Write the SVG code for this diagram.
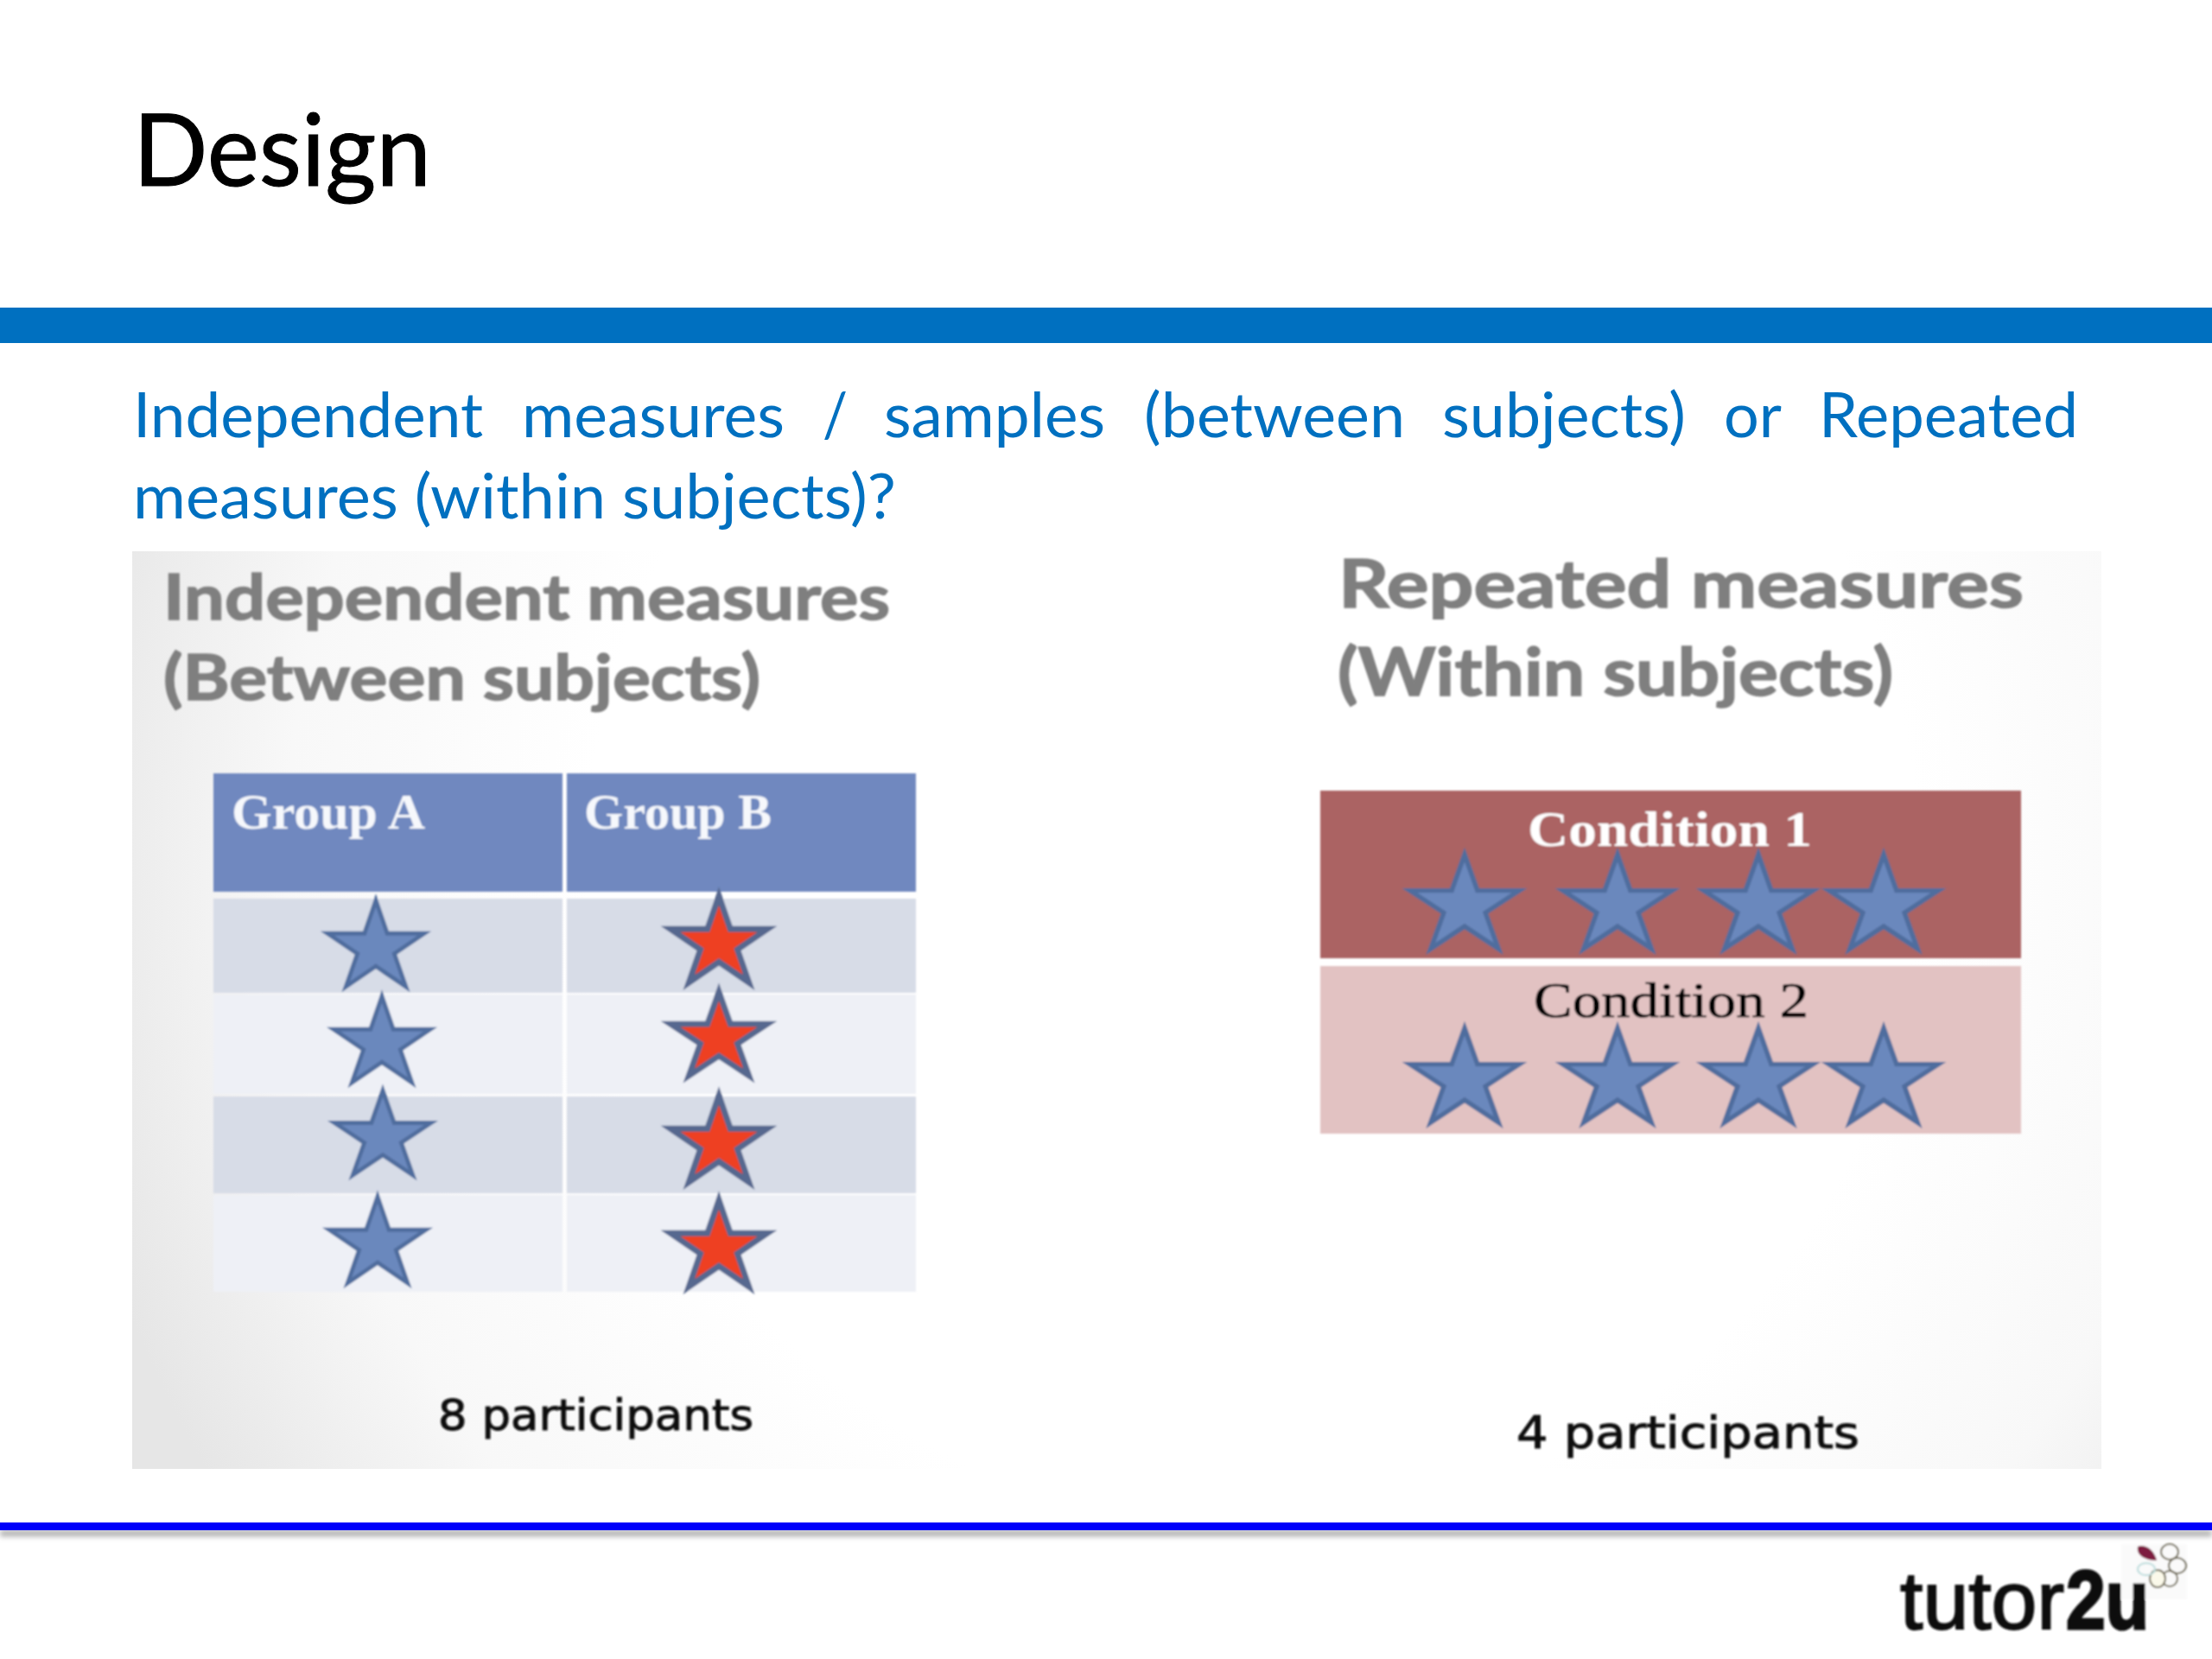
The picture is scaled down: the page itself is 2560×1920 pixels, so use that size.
<svg xmlns="http://www.w3.org/2000/svg" xmlns:xlink="http://www.w3.org/1999/xlink" width="2560" height="1920" viewBox="0 0 2560 1920">
<style>
.body{font-family:Lato,"Open Sans",sans-serif;font-size:71px;fill:#0070c0}
.head{font-family:Lato,"Open Sans",sans-serif;font-weight:700;font-size:72px;fill:#7f7f7f;stroke:#7f7f7f;stroke-width:1.5}
.ser{font-family:"Liberation Serif",serif;font-size:56px}
.cnt{font-family:"DejaVu Sans",sans-serif;font-size:50px;fill:#111;stroke:#111;stroke-width:1}
.sa{fill:#6b88bd;stroke:#4f6d9e;stroke-width:5}
.sb{fill:#ee3f24;stroke:#56688f;stroke-width:7}
</style>
<defs>
<polygon id="star" points="0,0 13.2,38.2 56,38.2 21.4,61.8 34.7,100 0,76.3 -34.7,100 -21.4,61.8 -56,38.2 -13.2,38.2"/>
<radialGradient id="pg" gradientUnits="userSpaceOnUse" cx="1450" cy="1000" r="1400">
<stop offset="0.55" stop-color="#ffffff"/><stop offset="0.8" stop-color="#f8f8f8"/><stop offset="1" stop-color="#e6e6e6"/>
</radialGradient>
<filter id="soft" x="-5%" y="-5%" width="110%" height="110%"><feGaussianBlur stdDeviation="0.9"/></filter>
<filter id="sh" x="-1%" y="-200%" width="102%" height="500%"><feGaussianBlur stdDeviation="3"/></filter>
</defs>
<rect width="2560" height="1920" fill="#fff"/>
<text x="154" y="215" font-family="Lato,'Open Sans',sans-serif" font-size="116" fill="#000" stroke="#000" stroke-width="1" textLength="345" lengthAdjust="spacingAndGlyphs">Design</text>
<rect x="0" y="356" width="2560" height="41" fill="#0070c0"/>
<g id="intro" class="body">
<text class="body" x="154" y="506" textLength="405" lengthAdjust="spacingAndGlyphs">Independent</text>
<text class="body" x="604" y="506" textLength="304" lengthAdjust="spacingAndGlyphs">measures</text>
<text class="body" x="952" y="506" textLength="29" lengthAdjust="spacingAndGlyphs">/</text>
<text class="body" x="1023" y="506" textLength="256" lengthAdjust="spacingAndGlyphs">samples</text>
<text class="body" x="1324" y="506" textLength="302" lengthAdjust="spacingAndGlyphs">(between</text>
<text class="body" x="1669" y="506" textLength="282" lengthAdjust="spacingAndGlyphs">subjects)</text>
<text class="body" x="1995" y="506" textLength="67" lengthAdjust="spacingAndGlyphs">or</text>
<text class="body" x="2105" y="506" textLength="300" lengthAdjust="spacingAndGlyphs">Repeated</text>
<text class="body" x="154" y="600" textLength="883" lengthAdjust="spacingAndGlyphs">measures (within subjects)?</text>
</g>
<rect id="panel" x="153" y="638" width="2279" height="1062" fill="url(#pg)"/>
<g id="independent" filter="url(#soft)">
<text class="head" x="189" y="717" textLength="841" lengthAdjust="spacingAndGlyphs">Independent measures</text>
<text class="head" x="189" y="810" textLength="691" lengthAdjust="spacingAndGlyphs">(Between subjects)</text>
<g id="table">
<rect x="247" y="895" width="404" height="137" fill="#6f88bf"/>
<rect x="656" y="895" width="404" height="137" fill="#6f88bf"/>
<g fill="#d7dce7"><rect x="247" y="1040" width="404" height="109"/><rect x="656" y="1040" width="404" height="109"/><rect x="247" y="1269" width="404" height="112"/><rect x="656" y="1269" width="404" height="112"/></g>
<g fill="#eef0f6"><rect x="247" y="1151" width="404" height="115"/><rect x="656" y="1151" width="404" height="115"/><rect x="247" y="1383" width="404" height="112"/><rect x="656" y="1383" width="404" height="112"/></g>
<text class="ser" x="268" y="959" font-weight="700" fill="#f6f8fc" textLength="224" lengthAdjust="spacingAndGlyphs">Group A</text>
<text class="ser" x="676" y="959" font-weight="700" fill="#f6f8fc" textLength="217" lengthAdjust="spacingAndGlyphs">Group B</text>
</g>
<g id="group-a-stars" class="sa">
<use xlink:href="#star" href="#star" transform="translate(435 1042)"/>
<use xlink:href="#star" href="#star" transform="translate(442 1153)"/>
<use xlink:href="#star" href="#star" transform="translate(443 1262) scale(1 .98)"/>
<use xlink:href="#star" href="#star" transform="translate(437 1385)"/>
</g>
<g id="group-b-stars" class="sb">
<use xlink:href="#star" href="#star" transform="translate(832 1037)"/>
<use xlink:href="#star" href="#star" transform="translate(832 1148) scale(1 .97)"/>
<use xlink:href="#star" href="#star" transform="translate(832 1268)"/>
<use xlink:href="#star" href="#star" transform="translate(832 1389)"/>
</g>
<text class="cnt" x="507" y="1655" textLength="365" lengthAdjust="spacingAndGlyphs">8 participants</text>
</g>
<g id="repeated" filter="url(#soft)">
<text class="head" x="1549" y="703" style="font-size:76px" textLength="793" lengthAdjust="spacingAndGlyphs">Repeated measures</text>
<text class="head" x="1548" y="805" style="font-size:76px" textLength="643" lengthAdjust="spacingAndGlyphs">(Within subjects)</text>
<rect id="condition-1" x="1528" y="915" width="811" height="194" fill="#ab6464"/>
<rect id="condition-2" x="1528" y="1118" width="811" height="194" fill="#e2c2c2"/>
<text class="ser" x="1768" y="979" font-weight="700" fill="#fff" textLength="329" lengthAdjust="spacingAndGlyphs">Condition 1</text>
<text class="ser" x="1775" y="1177" fill="#000" stroke="#000" stroke-width=".7" textLength="318" lengthAdjust="spacingAndGlyphs">Condition 2</text>
<g id="condition-stars" class="sa">
<use xlink:href="#star" href="#star" transform="translate(1695 989) scale(1.13 1.09)"/>
<use xlink:href="#star" href="#star" transform="translate(1872 989) scale(1.13 1.09)"/>
<use xlink:href="#star" href="#star" transform="translate(2035 989) scale(1.13 1.09)"/>
<use xlink:href="#star" href="#star" transform="translate(2180 989) scale(1.13 1.09)"/>
<use xlink:href="#star" href="#star" transform="translate(1695 1190) scale(1.13 1.09)"/>
<use xlink:href="#star" href="#star" transform="translate(1872 1190) scale(1.13 1.09)"/>
<use xlink:href="#star" href="#star" transform="translate(2035 1190) scale(1.13 1.09)"/>
<use xlink:href="#star" href="#star" transform="translate(2180 1190) scale(1.13 1.09)"/>
</g>
<text class="cnt" x="1755" y="1676" style="font-size:52px" textLength="397" lengthAdjust="spacingAndGlyphs">4 participants</text>
</g>
<rect x="0" y="1771" width="2560" height="7" fill="#aaa" filter="url(#sh)"/>
<rect id="footer-line" x="0" y="1762" width="2560" height="9" fill="#0000fa"/>
<g id="logo" filter="url(#soft)">
<rect x="2455" y="1787" width="76" height="64" fill="#fafafa"/>
<text x="2199" y="1885" font-family="'Liberation Sans',sans-serif" font-size="94" fill="#111" stroke="#111" stroke-width="2" textLength="190" lengthAdjust="spacingAndGlyphs">tutor</text>
<text x="2391" y="1885" font-family="'Liberation Sans',sans-serif" font-weight="700" font-size="96" fill="#111" stroke="#111" stroke-width="3" textLength="96" lengthAdjust="spacingAndGlyphs">2u</text>
<path d="M2474 1790 C2484 1786 2494 1796 2496 1806 C2486 1806 2472 1802 2474 1790Z" fill="#7d1a40"/>
<g fill="none" stroke="#6f6a55" stroke-width="2">
<ellipse cx="2511" cy="1796" rx="10" ry="9"/>
<ellipse cx="2520" cy="1812" rx="10" ry="9"/>
<ellipse cx="2511" cy="1827" rx="9" ry="9"/>
<ellipse cx="2497" cy="1827" rx="9" ry="10" fill="#fbf9ea"/>
<ellipse cx="2484" cy="1816" rx="10" ry="7" stroke="#bcdcdc"/>
</g>
</g>
</svg>
